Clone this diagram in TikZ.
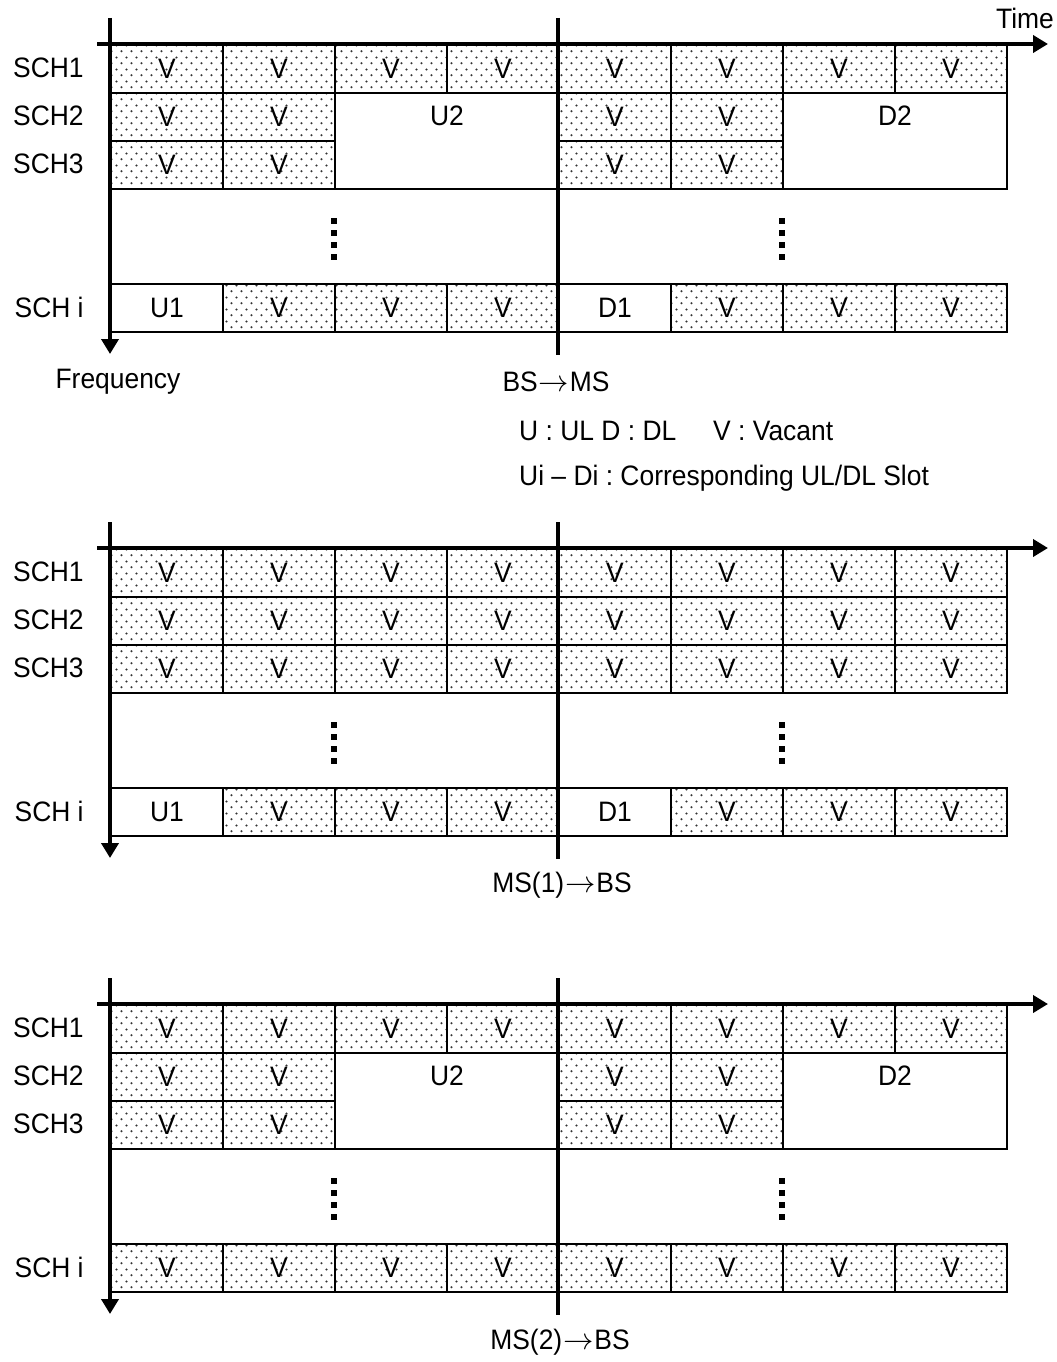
\documentclass[tikz,border=0pt]{standalone}
\usepackage{fontspec}
\setmainfont{Liberation Sans}[FakeStretch=0.94]
\usetikzlibrary{arrows.meta,patterns}
\frenchspacing

% staggered dot fill for the vacant slots
\pgfdeclarepatternformonly{vacantdots}{\pgfqpoint{0pt}{0pt}}{\pgfqpoint{5.69pt}{6.83pt}}{\pgfqpoint{5.69pt}{6.83pt}}{%
  \pgfpathcircle{\pgfqpoint{1.42pt}{1.7pt}}{0.7pt}%
  \pgfpathcircle{\pgfqpoint{4.27pt}{5.12pt}}{0.7pt}%
  \pgfusepath{fill}}

\newcommand{\toarrow}{\kern0.5pt$\rightarrow$\kern0.5pt}

\tikzset{
  slot/.style={draw,line width=1.1pt,minimum width=2.24cm,minimum height=0.96cm,
    inner sep=0pt,anchor=north west},
  vacant/.style={slot,pattern=vacantdots,pattern color=black!80},
  used/.style={slot,fill=white},
  chname/.style={anchor=east,inner sep=0pt},
  axisline/.style={line width=2.6pt},
  axisarrow/.style={axisline,-{Triangle[length=0.3cm,width=0.34cm]}},
}

\begin{document}
\begin{tikzpicture}[x=0.02cm,y=-0.02cm,font=\fontsize{16}{19}\selectfont]
  \useasboundingbox (0,0) rectangle (1057,1362);

  % channel names and first sub-channel, same in all three frames
  \foreach \p/\oy in {1/44,2/548,3/1004}{
    \node[chname] (sch1-\p) at (84,\oy+24) {SCH1};
    \node[chname] (sch2-\p) at (84,\oy+72) {SCH2};
    \node[chname] (sch3-\p) at (84,\oy+120) {SCH3};
    \node[chname] (schi-\p) at (84,\oy+263) {SCH i};
    \foreach \c in {1,...,8}
      \node[vacant] (v1-\c-\p) at ({110+112*(\c-1)},\oy) {V};
    % vertical ellipsis
    \foreach \x in {334,782}
      \foreach \k in {0,...,3}
        \fill (\x-3,\oy+174+12*\k) rectangle +(6,6);
  }

  % SCH2/SCH3 with the merged U2 and D2 slots
  \foreach \p/\oy in {1/44,3/1004}{
    \foreach \r in {2,3}
      \foreach \c in {1,2,5,6}
        \node[vacant] (v\r-\c-\p) at ({110+112*(\c-1)},{\oy+48*(\r-1)}) {V};
    \node[used,minimum width=4.48cm,minimum height=1.92cm] (u2-\p) at (334,\oy+48) {};
    \node (u2lab-\p) at ([yshift=-0.48cm]u2-\p.north) {U2};
    \node[used,minimum width=4.48cm,minimum height=1.92cm] (d2-\p) at (782,\oy+48) {};
    \node (d2lab-\p) at ([yshift=-0.48cm]d2-\p.north) {D2};
  }
  \foreach \r in {2,3}
    \foreach \c in {1,...,8}
      \node[vacant] (v\r-\c-2) at ({110+112*(\c-1)},{548+48*(\r-1)}) {V};

  % SCH i
  \foreach \p/\oy in {1/44,2/548}{
    \node[used] (u1-\p) at (110,\oy+239) {U1};
    \node[used] (d1-\p) at (558,\oy+239) {D1};
    \foreach \c in {2,3,4,6,7,8}
      \node[vacant] (vi-\c-\p) at ({110+112*(\c-1)},\oy+239) {V};
  }
  \foreach \c in {1,...,8}
    \node[vacant] (vi-\c-3) at ({110+112*(\c-1)},1243) {V};

  % axes and frame split
  \foreach \p/\oy in {1/44,2/548,3/1004}{
    \coordinate (ftop-\p) at (110,\oy-26);
    \coordinate (fend-\p) at (110,\oy+310);
    \coordinate (tbeg-\p) at (97,\oy);
    \coordinate (tend-\p) at (1048,\oy);
    \coordinate (mtop-\p) at (558,\oy-26);
    \coordinate (mbot-\p) at (558,\oy+311);
    \draw[axisline] (mtop-\p) -- (mbot-\p);
    \draw[axisarrow,line width=2.2pt] (tbeg-\p) -- (tend-\p);
    \draw[axisarrow] (ftop-\p) -- (fend-\p);
  }

  \node (time) at (1025,18) {Time};
  \node (freq) at (118,382) {Frequency};
  \node (dir1) at (556,382) {BS\toarrow MS};
  \node[anchor=west] (key1) at (513,431) {U : UL D : DL\hspace{1.05em} V : Vacant};
  \node[anchor=west] (key2) at (513,478) {Ui – Di : Corresponding UL/DL Slot};
  \node (dir2) at (562,885) {MS(1)\toarrow BS};
  \node (dir3) at (560,1342) {MS(2)\toarrow BS};
\end{tikzpicture}
\end{document}
